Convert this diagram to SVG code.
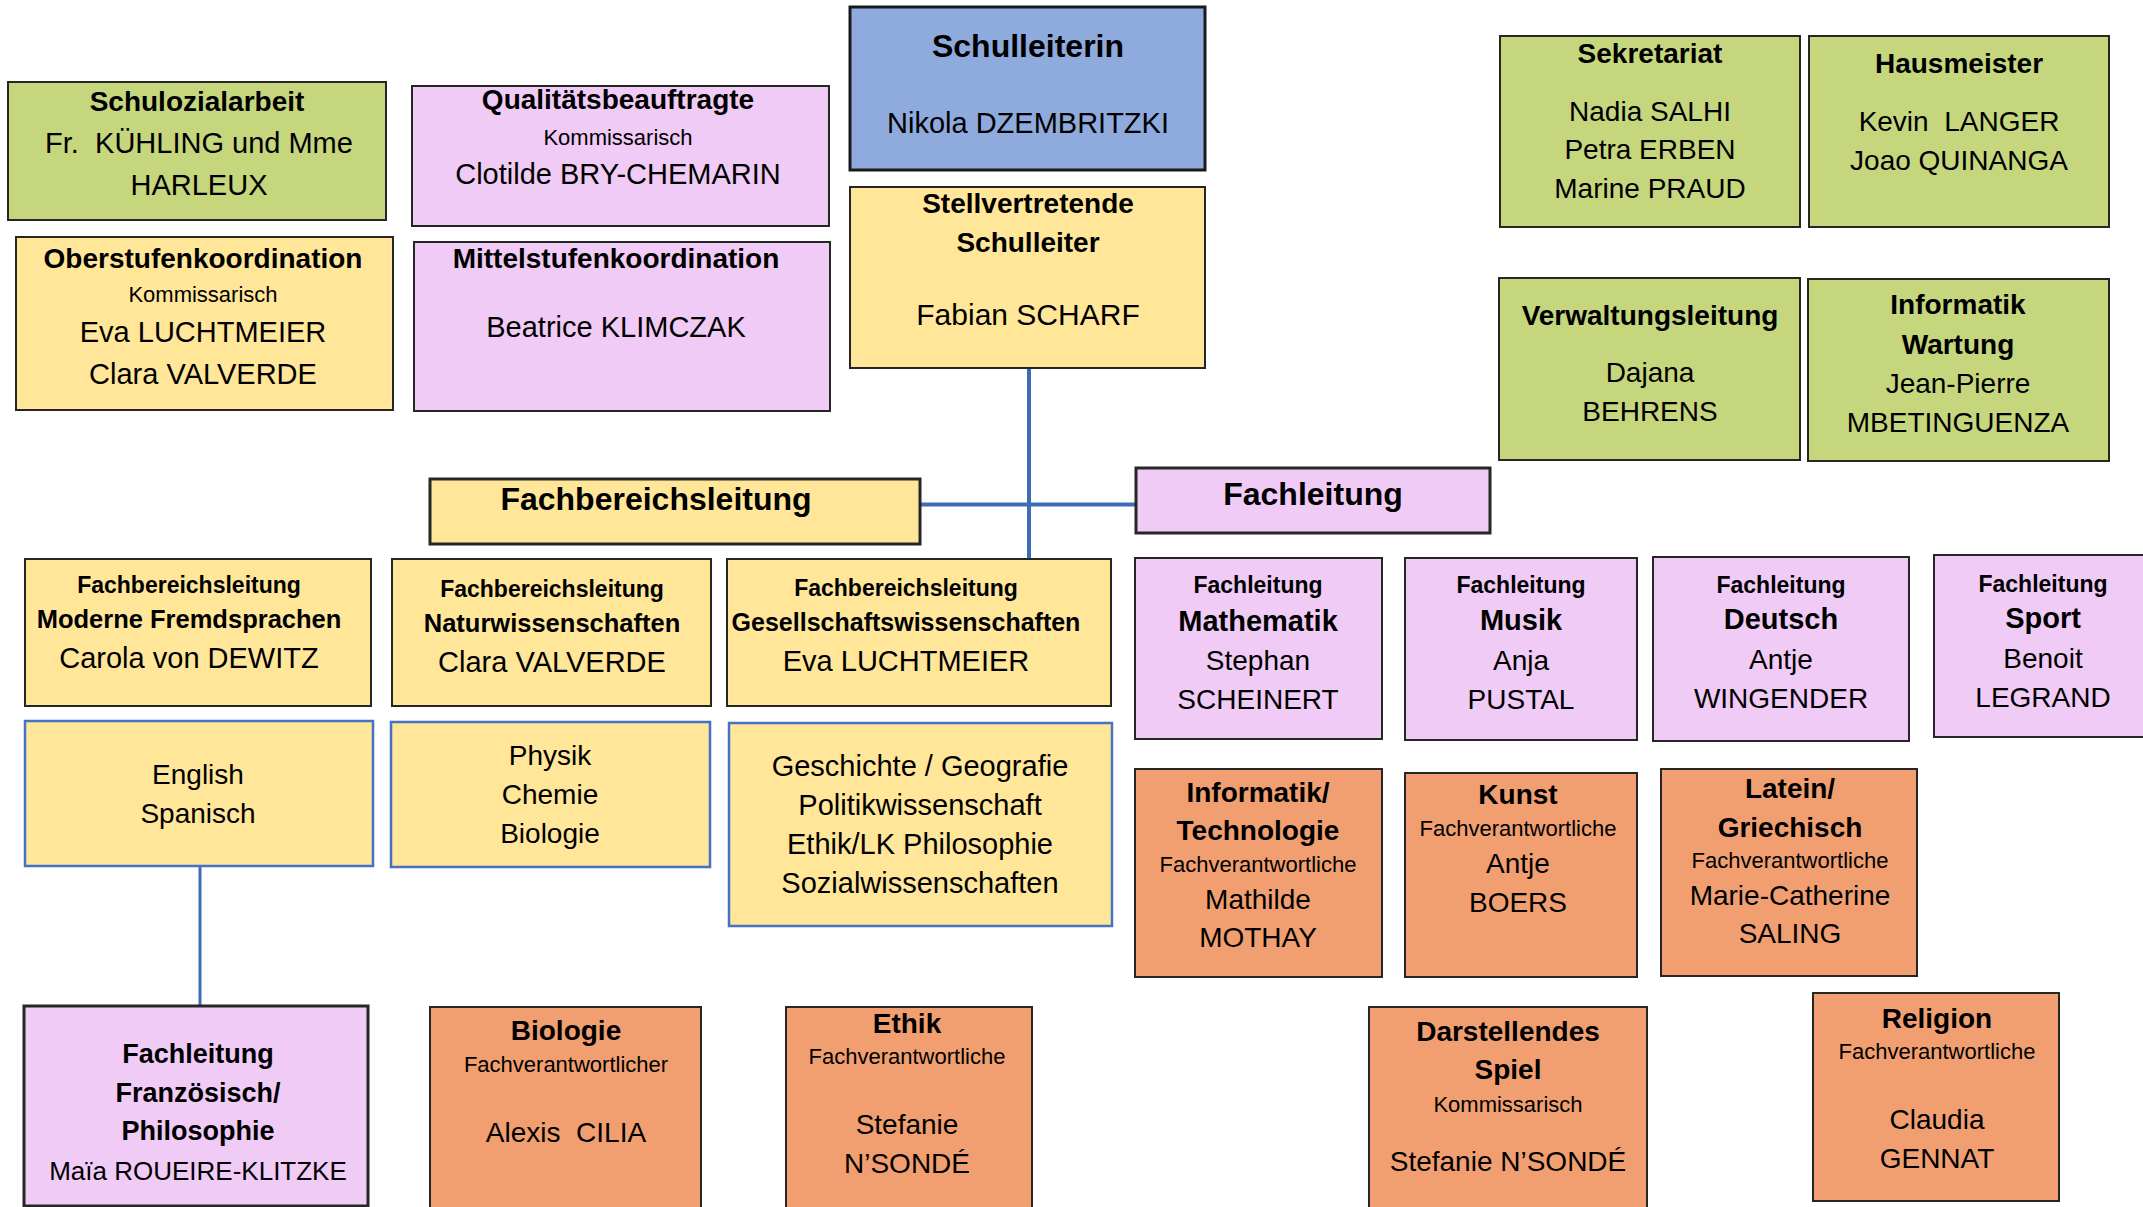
<svg xmlns="http://www.w3.org/2000/svg" width="2143" height="1207" viewBox="0 0 2143 1207">
  <style>
    text { font-family: "Liberation Sans", Arial, sans-serif; fill: #000; text-anchor: middle; }
    .green { fill: #C5D67D; stroke: #262626; stroke-width: 2; }
    .yellow { fill: #FFE699; stroke: #262626; stroke-width: 2; }
    .yblue { fill: #FFE699; stroke: #4472C4; stroke-width: 2.5; }
    .pink { fill: #F0CBF6; stroke: #262626; stroke-width: 2; }
    .orange { fill: #F19F70; stroke: #262626; stroke-width: 2; }
    .chief { fill: #8FAADC; stroke: #1a1a1a; stroke-width: 3; }
    .thick { stroke-width: 3; }
    .h { font-size: 32px; font-weight: bold; }
    .t { font-size: 28px; font-weight: bold; }
    .t29 { font-size: 29px; font-weight: bold; }
    .n { font-size: 28px; }
    .n29 { font-size: 29px; }
    .s { font-size: 22px; }
    .fs { font-size: 23px; font-weight: bold; }
    .ms { font-size: 25.5px; font-weight: bold; }
    .fr { font-size: 27px; font-weight: bold; }
    .conn { stroke: #3D6DB5; fill: none; }
  </style>

  <rect width="2143" height="1207" fill="#ffffff"/>

  <!-- connectors -->
  <g id="connectors" class="conn">
    <line x1="1029" y1="368" x2="1029" y2="558" stroke-width="4"/>
    <line x1="920" y1="504.5" x2="1136" y2="504.5" stroke-width="4"/>
    <line x1="200" y1="866" x2="200" y2="1006" stroke-width="3"/>
  </g>

  <!-- school management -->
  <g id="schulleiterin">
    <rect class="chief" x="850" y="7" width="355" height="163"/>
    <text class="h" x="1028" y="57">Schulleiterin</text>
    <text class="n29" x="1028" y="133">Nikola DZEMBRITZKI</text>
  </g>
  <g id="stellvertretung">
    <rect class="yellow" x="850" y="187" width="355" height="181"/>
    <text class="t" x="1028" y="213">Stellvertretende</text>
    <text class="t" x="1028" y="252">Schulleiter</text>
    <text class="n" x="1028" y="325" style="font-size:30px">Fabian SCHARF</text>
  </g>

  <!-- left column: coordination -->
  <g id="schulsozialarbeit">
    <rect class="green" x="8" y="82" width="378" height="138"/>
    <text class="t" x="197" y="111">Schulozialarbeit</text>
    <text class="n29" x="199" y="153" xml:space="preserve">Fr.  KÜHLING und Mme</text>
    <text class="n29" x="199" y="195">HARLEUX</text>
  </g>
  <g id="qualitaet">
    <rect class="pink" x="412" y="86" width="417" height="140"/>
    <text class="t" x="618" y="109">Qualitätsbeauftragte</text>
    <text class="s" x="618" y="145">Kommissarisch</text>
    <text class="n29" x="618" y="184">Clotilde BRY-CHEMARIN</text>
  </g>
  <g id="oberstufe">
    <rect class="yellow" x="16" y="237" width="377" height="173"/>
    <text class="t" x="203" y="268">Oberstufenkoordination</text>
    <text class="s" x="203" y="302">Kommissarisch</text>
    <text class="n29" x="203" y="342">Eva LUCHTMEIER</text>
    <text class="n29" x="203" y="384">Clara VALVERDE</text>
  </g>
  <g id="mittelstufe">
    <rect class="pink" x="414" y="242" width="416" height="169"/>
    <text class="t" x="616" y="268">Mittelstufenkoordination</text>
    <text class="n29" x="616" y="337">Beatrice KLIMCZAK</text>
  </g>

  <!-- right column: administration -->
  <g id="sekretariat">
    <rect class="green" x="1500" y="36" width="300" height="191"/>
    <text class="t" x="1650" y="63">Sekretariat</text>
    <text class="n" x="1650" y="121">Nadia SALHI</text>
    <text class="n" x="1650" y="159">Petra ERBEN</text>
    <text class="n" x="1650" y="198">Marine PRAUD</text>
  </g>
  <g id="hausmeister">
    <rect class="green" x="1809" y="36" width="300" height="191"/>
    <text class="t" x="1959" y="73">Hausmeister</text>
    <text class="n" x="1959" y="131" xml:space="preserve">Kevin  LANGER</text>
    <text class="n" x="1959" y="170">Joao QUINANGA</text>
  </g>
  <g id="verwaltung">
    <rect class="green" x="1499" y="278" width="301" height="182"/>
    <text class="t" x="1650" y="325">Verwaltungsleitung</text>
    <text class="n" x="1650" y="382">Dajana</text>
    <text class="n" x="1650" y="421">BEHRENS</text>
  </g>
  <g id="informatik-wartung">
    <rect class="green" x="1808" y="279" width="301" height="182"/>
    <text class="t" x="1958" y="314">Informatik</text>
    <text class="t" x="1958" y="354">Wartung</text>
    <text class="n" x="1958" y="393">Jean-Pierre</text>
    <text class="n" x="1958" y="432">MBETINGUENZA</text>
  </g>

  <!-- department heads -->
  <g id="fachbereichsleitung">
    <rect class="yellow thick" x="430" y="479" width="490" height="65"/>
    <text class="h" x="656" y="510">Fachbereichsleitung</text>
  </g>
  <g id="fbl-fremdsprachen">
    <rect class="yellow" x="25" y="559" width="346" height="147"/>
    <text class="fs" x="189" y="593">Fachbereichsleitung</text>
    <text class="ms" x="189" y="628">Moderne Fremdsprachen</text>
    <text class="n29" x="189" y="668">Carola von DEWITZ</text>
  </g>
  <g id="fbl-natur">
    <rect class="yellow" x="392" y="559" width="319" height="147"/>
    <text class="fs" x="552" y="597">Fachbereichsleitung</text>
    <text class="ms" x="552" y="632">Naturwissenschaften</text>
    <text class="n29" x="552" y="672">Clara VALVERDE</text>
  </g>
  <g id="fbl-gesellschaft">
    <rect class="yellow" x="727" y="559" width="384" height="147"/>
    <text class="fs" x="906" y="596">Fachbereichsleitung</text>
    <text class="ms" x="906" y="631" style="font-size:25px">Gesellschaftswissenschaften</text>
    <text class="n29" x="906" y="671">Eva LUCHTMEIER</text>
  </g>
  <g id="faecher-sprachen">
    <rect class="yblue" x="25" y="721" width="348" height="145"/>
    <text class="n" x="198" y="784">English</text>
    <text class="n" x="198" y="823">Spanisch</text>
  </g>
  <g id="faecher-natur">
    <rect class="yblue" x="391" y="722" width="319" height="145"/>
    <text class="n" x="550" y="765">Physik</text>
    <text class="n" x="550" y="804">Chemie</text>
    <text class="n" x="550" y="843">Biologie</text>
  </g>
  <g id="faecher-gesellschaft">
    <rect class="yblue" x="729" y="723" width="383" height="203"/>
    <text class="n29" x="920" y="776">Geschichte / Geografie</text>
    <text class="n29" x="920" y="815">Politikwissenschaft</text>
    <text class="n29" x="920" y="854">Ethik/LK Philosophie</text>
    <text class="n29" x="920" y="893">Sozialwissenschaften</text>
  </g>

  <!-- subject heads -->
  <g id="fachleitung">
    <rect class="pink thick" x="1136" y="468" width="354" height="65"/>
    <text class="h" x="1313" y="505">Fachleitung</text>
  </g>
  <g id="fl-mathematik">
    <rect class="pink" x="1135" y="558" width="247" height="181"/>
    <text class="fs" x="1258" y="593">Fachleitung</text>
    <text class="t29" x="1258" y="631">Mathematik</text>
    <text class="n" x="1258" y="670">Stephan</text>
    <text class="n" x="1258" y="709">SCHEINERT</text>
  </g>
  <g id="fl-musik">
    <rect class="pink" x="1405" y="558" width="232" height="182"/>
    <text class="fs" x="1521" y="593">Fachleitung</text>
    <text class="t29" x="1521" y="630">Musik</text>
    <text class="n" x="1521" y="670">Anja</text>
    <text class="n" x="1521" y="709">PUSTAL</text>
  </g>
  <g id="fl-deutsch">
    <rect class="pink" x="1653" y="557" width="256" height="184"/>
    <text class="fs" x="1781" y="593">Fachleitung</text>
    <text class="t29" x="1781" y="629">Deutsch</text>
    <text class="n" x="1781" y="669">Antje</text>
    <text class="n" x="1781" y="708">WINGENDER</text>
  </g>
  <g id="fl-sport">
    <rect class="pink" x="1934" y="555" width="222" height="182"/>
    <text class="fs" x="2043" y="592">Fachleitung</text>
    <text class="t29" x="2043" y="628">Sport</text>
    <text class="n" x="2043" y="668">Benoit</text>
    <text class="n" x="2043" y="707">LEGRAND</text>
  </g>
  <g id="informatik-technologie">
    <rect class="orange" x="1135" y="769" width="247" height="208"/>
    <text class="t" x="1258" y="802">Informatik/</text>
    <text class="t" x="1258" y="840">Technologie</text>
    <text class="s" x="1258" y="872">Fachverantwortliche</text>
    <text class="n" x="1258" y="909">Mathilde</text>
    <text class="n" x="1258" y="947">MOTHAY</text>
  </g>
  <g id="kunst">
    <rect class="orange" x="1405" y="773" width="232" height="204"/>
    <text class="t" x="1518" y="804">Kunst</text>
    <text class="s" x="1518" y="836">Fachverantwortliche</text>
    <text class="n" x="1518" y="873">Antje</text>
    <text class="n" x="1518" y="912">BOERS</text>
  </g>
  <g id="latein-griechisch">
    <rect class="orange" x="1661" y="769" width="256" height="207"/>
    <text class="t" x="1790" y="798">Latein/</text>
    <text class="t" x="1790" y="837">Griechisch</text>
    <text class="s" x="1790" y="868">Fachverantwortliche</text>
    <text class="n" x="1790" y="905">Marie-Catherine</text>
    <text class="n" x="1790" y="943">SALING</text>
  </g>

  <!-- bottom row -->
  <g id="fl-franzoesisch">
    <rect class="pink thick" x="24" y="1006" width="344" height="200"/>
    <text class="fr" x="198" y="1063">Fachleitung</text>
    <text class="fr" x="198" y="1102">Französisch/</text>
    <text class="fr" x="198" y="1140">Philosophie</text>
    <text class="n" x="198" y="1180" style="font-size:26px">Maïa ROUEIRE-KLITZKE</text>
  </g>
  <g id="biologie">
    <rect class="orange" x="430" y="1007" width="271" height="202"/>
    <text class="t" x="566" y="1040">Biologie</text>
    <text class="s" x="566" y="1072">Fachverantwortlicher</text>
    <text class="n" x="566" y="1142" xml:space="preserve">Alexis  CILIA</text>
  </g>
  <g id="ethik">
    <rect class="orange" x="786" y="1007" width="246" height="202"/>
    <text class="t" x="907" y="1033">Ethik</text>
    <text class="s" x="907" y="1064">Fachverantwortliche</text>
    <text class="n" x="907" y="1134">Stefanie</text>
    <text class="n" x="907" y="1173">N’SONDÉ</text>
  </g>
  <g id="darstellendes-spiel">
    <rect class="orange" x="1369" y="1007" width="278" height="210"/>
    <text class="t" x="1508" y="1041">Darstellendes</text>
    <text class="t" x="1508" y="1079">Spiel</text>
    <text class="s" x="1508" y="1112">Kommissarisch</text>
    <text class="n" x="1508" y="1171">Stefanie N’SONDÉ</text>
  </g>
  <g id="religion">
    <rect class="orange" x="1813" y="993" width="246" height="208"/>
    <text class="t" x="1937" y="1028">Religion</text>
    <text class="s" x="1937" y="1059">Fachverantwortliche</text>
    <text class="n" x="1937" y="1129">Claudia</text>
    <text class="n" x="1937" y="1168">GENNAT</text>
  </g>
</svg>
